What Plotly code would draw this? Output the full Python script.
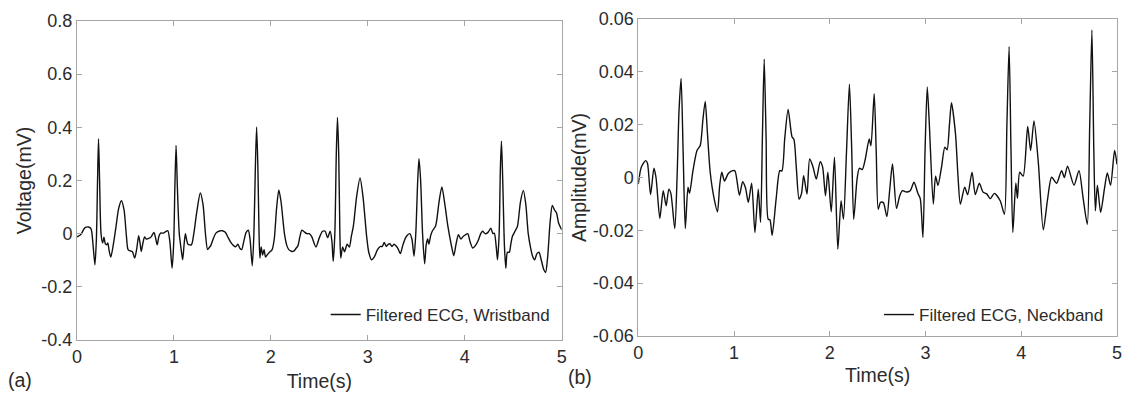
import plotly.graph_objects as go

# ---------------- data ----------------
t_wrist = [0.000, 0.040, 0.080, 0.120, 0.145, 0.165, 0.185, 0.200, 0.212, 0.222, 0.233, 0.248,
           0.265, 0.278, 0.292, 0.305, 0.318, 0.332, 0.349, 0.375, 0.400, 0.430, 0.458, 0.485,
           0.510, 0.527, 0.550, 0.572, 0.595, 0.615, 0.636, 0.650, 0.663, 0.680, 0.697, 0.715,
           0.740, 0.765, 0.793, 0.810, 0.827, 0.845, 0.862, 0.890, 0.915, 0.937, 0.958, 0.981,
           0.998, 1.010, 1.022, 1.035, 1.055, 1.075, 1.090, 1.105, 1.118, 1.132, 1.145, 1.180,
           1.205, 1.235, 1.272, 1.300, 1.325, 1.347, 1.365, 1.380, 1.405, 1.433, 1.470, 1.500,
           1.530, 1.560, 1.587, 1.615, 1.638, 1.660, 1.680, 1.699, 1.720, 1.745, 1.767, 1.785,
           1.808, 1.825, 1.840, 1.853, 1.866, 1.878, 1.887, 1.900, 1.915, 1.930, 1.945, 1.962,
           1.985, 2.013, 2.035, 2.060, 2.082, 2.105, 2.140, 2.165, 2.185, 2.210, 2.236, 2.260,
           2.280, 2.300, 2.320, 2.340, 2.372, 2.395, 2.420, 2.465, 2.500, 2.533, 2.560, 2.585,
           2.612, 2.630, 2.643, 2.660, 2.675, 2.687, 2.700, 2.712, 2.721, 2.740, 2.760, 2.787,
           2.810, 2.830, 2.851, 2.885, 2.920, 2.950, 2.988, 3.010, 3.039, 3.070, 3.100, 3.130,
           3.150, 3.169, 3.190, 3.210, 3.227, 3.250, 3.270, 3.290, 3.310, 3.336, 3.360, 3.388,
           3.410, 3.433, 3.455, 3.477, 3.495, 3.515, 3.528, 3.545, 3.565, 3.586, 3.603, 3.618,
           3.630, 3.650, 3.665, 3.700, 3.735, 3.764, 3.795, 3.826, 3.860, 3.887, 3.910, 3.935,
           3.960, 3.985, 4.005, 4.031, 4.055, 4.082, 4.110, 4.140, 4.165, 4.185, 4.210, 4.240,
           4.270, 4.290, 4.305, 4.325, 4.338, 4.355, 4.368, 4.379, 4.392, 4.410, 4.424, 4.440,
           4.460, 4.475, 4.492, 4.520, 4.544, 4.575, 4.605, 4.630, 4.655, 4.680, 4.700, 4.721,
           4.745, 4.766, 4.790, 4.815, 4.834, 4.855, 4.880, 4.903, 4.925, 4.947, 4.968, 5.000]
v_wrist = [-0.012, -0.003, 0.022, 0.025, 0.018, -0.040, -0.117, -0.020, 0.200, 0.357, 0.200, 0.000,
           -0.035, -0.013, -0.038, -0.042, -0.035, -0.065, -0.088, -0.040, 0.020, 0.095, 0.124, 0.090,
           -0.010, -0.060, -0.065, -0.068, -0.092, -0.060, -0.008, -0.035, -0.067, -0.035, -0.012, -0.020,
           -0.018, -0.012, 0.005, -0.015, -0.042, -0.010, 0.002, 0.002, 0.008, 0.011, -0.030, -0.130,
           -0.030, 0.180, 0.332, 0.180, 0.000, -0.060, -0.098, -0.040, 0.000, -0.025, -0.040, -0.042,
           0.000, 0.080, 0.153, 0.110, 0.000, -0.060, -0.052, -0.045, -0.020, 0.002, 0.010, 0.011,
           0.005, -0.015, -0.033, -0.045, -0.049, -0.040, -0.055, -0.060, -0.030, 0.005, 0.013, -0.020,
           -0.121, 0.000, 0.250, 0.401, 0.250, 0.000, -0.092, -0.050, -0.080, -0.060, -0.088, -0.080,
           -0.070, -0.060, -0.020, 0.100, 0.164, 0.120, 0.000, -0.045, -0.060, -0.066, -0.066, -0.055,
           -0.045, -0.010, 0.013, 0.008, 0.000, 0.000, -0.010, -0.050, -0.015, 0.009, 0.009, -0.015,
           0.009, -0.030, -0.104, 0.000, 0.300, 0.437, 0.300, 0.000, -0.092, -0.050, -0.068, -0.040,
           -0.050, -0.010, 0.028, 0.140, 0.210, 0.140, -0.010, -0.070, -0.098, -0.085, -0.060, -0.048,
           -0.048, -0.033, -0.048, -0.040, -0.038, -0.048, -0.040, -0.045, -0.055, -0.075, -0.045, -0.017,
           -0.005, 0.000, -0.020, -0.085, 0.000, 0.200, 0.282, 0.200, 0.000, -0.113, -0.040, -0.020,
           -0.040, -0.005, 0.009, 0.030, 0.120, 0.176, 0.110, 0.028, -0.040, -0.083, -0.040, -0.004,
           -0.020, -0.010, -0.005, 0.000, -0.030, -0.054, -0.045, -0.025, 0.000, 0.009, 0.000, 0.005,
           0.021, 0.000, 0.002, -0.050, -0.098, 0.000, 0.250, 0.348, 0.200, -0.050, -0.130, -0.070,
           -0.070, -0.040, -0.010, 0.010, 0.028, 0.120, 0.163, 0.110, 0.000, -0.054, -0.085, -0.098,
           -0.075, -0.070, -0.100, -0.135, -0.146, -0.090, 0.040, 0.106, 0.090, 0.078, 0.040, 0.015]

t_neck = [0.000, 0.031, 0.076, 0.095, 0.128, 0.163, 0.185, 0.225, 0.260, 0.291, 0.319, 0.340,
          0.381, 0.405, 0.425, 0.447, 0.468, 0.491, 0.519, 0.535, 0.571, 0.613, 0.647, 0.675,
          0.699, 0.720, 0.751, 0.793, 0.827, 0.850, 0.872, 0.900, 0.940, 0.986, 1.010, 1.056,
          1.090, 1.120, 1.149, 1.184, 1.218, 1.253, 1.277, 1.296, 1.315, 1.335, 1.357, 1.375,
          1.398, 1.440, 1.478, 1.500, 1.530, 1.565, 1.606, 1.625, 1.650, 1.679, 1.705, 1.727,
          1.762, 1.790, 1.825, 1.859, 1.900, 1.925, 1.955, 1.980, 2.015, 2.049, 2.084, 2.118,
          2.143, 2.175, 2.205, 2.228, 2.250, 2.285, 2.309, 2.340, 2.371, 2.412, 2.430, 2.464,
          2.485, 2.506, 2.530, 2.560, 2.596, 2.625, 2.655, 2.697, 2.730, 2.759, 2.800, 2.840,
          2.880, 2.920, 2.945, 2.973, 2.995, 3.018, 3.040, 3.081, 3.105, 3.130, 3.167, 3.202,
          3.225, 3.250, 3.271, 3.313, 3.340, 3.364, 3.409, 3.440, 3.486, 3.520, 3.562, 3.600,
          3.640, 3.676, 3.720, 3.780, 3.824, 3.850, 3.873, 3.893, 3.912, 3.943, 3.960, 3.984,
          4.020, 4.067, 4.098, 4.133, 4.178, 4.230, 4.275, 4.317, 4.369, 4.421, 4.450, 4.483,
          4.551, 4.603, 4.645, 4.690, 4.715, 4.738, 4.758, 4.774, 4.795, 4.829, 4.870, 4.899,
          4.933, 4.975, 5.000]
v_neck = [-0.0025, 0.0039, 0.0064, 0.0055, -0.0065, 0.0035, 0.0000, -0.0155, -0.0050, -0.0107, -0.0044, -0.0060,
          -0.0193, 0.0000, 0.0250, 0.0375, 0.0100, -0.0193, -0.0037, -0.0060, 0.0026, 0.0102, 0.0121, 0.0220,
          0.0288, 0.0180, 0.0020, -0.0082, -0.0130, -0.0030, 0.0020, -0.0013, 0.0015, 0.0026, 0.0025, -0.0067,
          -0.0016, -0.0040, -0.0094, -0.0022, -0.0208, -0.0044, -0.0170, 0.0150, 0.0448, 0.0150, -0.0158, -0.0160,
          -0.0219, -0.0080, 0.0026, 0.0025, 0.0150, 0.0258, 0.0153, 0.0145, 0.0040, -0.0082, -0.0060, 0.0007,
          -0.0063, 0.0070, 0.0040, -0.0006, 0.0060, 0.0040, -0.0069, 0.0020, -0.0130, 0.0077, -0.0272, -0.0088,
          -0.0158, 0.0100, 0.0353, 0.0120, -0.0158, -0.0006, 0.0035, 0.0030, 0.0070, 0.0146, 0.0120, 0.0317,
          0.0100, -0.0120, -0.0094, -0.0095, -0.0148, -0.0050, 0.0051, -0.0117, -0.0070, -0.0050, -0.0055, -0.0050,
          -0.0018, -0.0060, -0.0080, -0.0227, 0.0100, 0.0343, 0.0200, -0.0101, 0.0005, -0.0030, 0.0039, 0.0115,
          0.0105, 0.0200, 0.0283, 0.0165, 0.0000, -0.0101, -0.0037, -0.0065, 0.0020, -0.0065, -0.0022, -0.0055,
          -0.0062, -0.0080, -0.0060, -0.0088, -0.0139, 0.0200, 0.0495, 0.0100, -0.0208, -0.0021, -0.0079, 0.0020,
          0.0005, 0.0193, 0.0102, 0.0214, 0.0058, -0.0198, -0.0082, 0.0001, -0.0022, 0.0026, 0.0000, 0.0043,
          -0.0029, 0.0026, -0.0075, -0.0177, 0.0200, 0.0558, 0.0100, -0.0126, -0.0029, -0.0132, -0.0040, 0.0017,
          -0.0029, 0.0102, 0.0050]

x_ticks = [0, 1, 2, 3, 4, 5]
x_ticktext = ["0", "1", "2", "3", "4", "5"]
y1_ticks = [-0.4, -0.2, 0, 0.2, 0.4, 0.6, 0.8]
y1_ticktext = ["-0.4", "-0.2", "0", "0.2", "0.4", "0.6", "0.8"]
y2_ticks = [-0.06, -0.04, -0.02, 0, 0.02, 0.04, 0.06]
y2_ticktext = ["-0.06", "-0.04", "-0.02", "0", "0.02", "0.04", "0.06"]

name_wrist = "Filtered ECG, Wristband"
name_neck = "Filtered ECG, Neckband"

# ---------------- figure ----------------
W, H = 1126, 394
ML, MR, MT, MB = 77, 4, 19, 54
PW, PH = W - ML - MR, H - MT - MB

def px_x(p):
    return (p - ML) / PW

def px_y(p):
    return (H - MB - p) / PH

FONT = "Liberation Sans, Arial, sans-serif"
AX = "#a6a6a6"
TXT = "#2b2b2b"

fig = go.Figure()
fig.add_trace(go.Scatter(x=t_wrist, y=v_wrist, mode="lines", name=name_wrist, showlegend=True,
                         line=dict(color="#111111", width=1.4, shape="spline", smoothing=0.7),
                         xaxis="x", yaxis="y", legend="legend"))
fig.add_trace(go.Scatter(x=t_neck, y=v_neck, mode="lines", name=name_neck, showlegend=True,
                         line=dict(color="#111111", width=1.4, shape="spline", smoothing=0.7),
                         xaxis="x2", yaxis="y2", legend="legend2"))

common_axis = dict(showline=True, linecolor=AX, linewidth=1, mirror="ticks",
                   ticks="inside", ticklen=5, tickcolor=AX, tickwidth=1,
                   showgrid=False, zeroline=False,
                   tickfont=dict(family=FONT, size=18, color=TXT))

fig.update_layout(
    width=W, height=H,
    showlegend=True,
    margin=dict(l=ML, r=MR, t=MT, b=MB),
    paper_bgcolor="white", plot_bgcolor="white",
    font=dict(family=FONT, color=TXT),
    xaxis=dict(domain=[0, px_x(564)], range=[0, 5], tickvals=x_ticks, ticktext=x_ticktext,
               anchor="y", title=dict(text="Time(s)", font=dict(size=19.5, color=TXT), standoff=8),
               **common_axis),
    yaxis=dict(domain=[px_y(340), px_y(21)], range=[-0.4, 0.8], tickvals=y1_ticks, ticktext=y1_ticktext,
               anchor="x", title=dict(text="Voltage(mV)", font=dict(size=19.5, color=TXT), standoff=4),
               **common_axis),
    xaxis2=dict(domain=[px_x(641), px_x(1122)], range=[0, 5], tickvals=x_ticks, ticktext=x_ticktext,
                anchor="y2", title=dict(text="Time(s)", font=dict(size=19.5, color=TXT), standoff=6),
                **common_axis),
    yaxis2=dict(domain=[px_y(336), px_y(19)], range=[-0.06, 0.06], tickvals=y2_ticks, ticktext=y2_ticktext,
                anchor="x2", title=dict(text="Amplitude(mV)", font=dict(size=19.5, color=TXT), standoff=0),
                **common_axis),
    legend=dict(x=px_x(557), y=px_y(315), xanchor="right", yanchor="middle",
                bgcolor="rgba(0,0,0,0)", borderwidth=0,
                font=dict(family=FONT, size=17, color=TXT)),
    legend2=dict(x=px_x(1114), y=px_y(315), xanchor="right", yanchor="middle",
                 bgcolor="rgba(0,0,0,0)", borderwidth=0,
                 font=dict(family=FONT, size=17, color=TXT)),
    annotations=[
        dict(text="(a)", x=px_x(20), y=px_y(380), xref="paper", yref="paper",
             xanchor="center", yanchor="middle", showarrow=False,
             font=dict(family=FONT, size=19.5, color=TXT)),
        dict(text="(b)", x=px_x(582), y=px_y(377), xref="paper", yref="paper",
             xanchor="center", yanchor="middle", showarrow=False,
             font=dict(family=FONT, size=19.5, color=TXT)),
    ],
)

fig.write_html("out.html",
               config={"displayModeBar": False},
               post_script="document.body.style.margin='0';document.body.style.padding='0';"
                           "document.body.style.overflow='hidden';")
